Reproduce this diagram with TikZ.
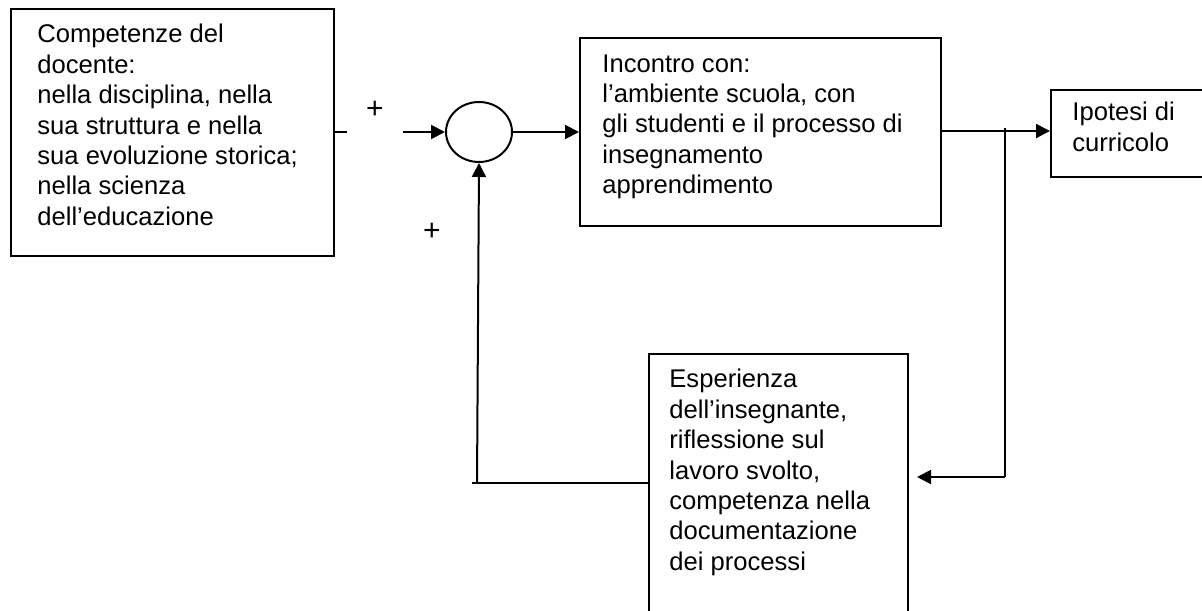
\documentclass[tikz,border=0pt]{standalone}
\usepackage{fontspec}
\setmainfont{Liberation Sans}
\usetikzlibrary{shapes.geometric,arrows.meta}
\begin{document}
\begin{tikzpicture}[x=0.5pt,y=-0.5pt,
  box/.style={draw,line width=1pt,rectangle,inner sep=0pt},
  txt/.style={anchor=north west,inner sep=0pt,align=left,font=\fontsize{12.8pt}{15.2pt}\selectfont},
  conn/.style={line width=1pt},
  arr/.style={line width=1pt,-{Triangle[length=7pt,width=7pt]}},
  plus/.style={inner sep=0pt,font=\fontsize{15pt}{15pt}\selectfont}]
\useasboundingbox (0,0) rectangle (1202,610);
\clip (0,0) rectangle (1202,610);
% boxes
\node[box,minimum width=161.5pt,minimum height=123.5pt,anchor=north west] (comp) at (10,8) {};
\node[box,minimum width=180.5pt,minimum height=94pt,anchor=north west] (inc) at (579,37) {};
\node[box,minimum width=76pt,minimum height=43.5pt,anchor=north west] (ipo) at (1050,89) {};
\node[box,minimum width=129.5pt,minimum height=140pt,anchor=north west] (esp) at (648,353) {};
\node[draw,line width=1pt,ellipse,inner sep=0pt,minimum width=33pt,minimum height=30pt] (sum) at (479,132) {};
% texts
\node[txt] (tcomp) at (37,24) {Competenze del\\docente:\\nella disciplina, nella\\sua struttura e nella\\sua evoluzione storica;\\nella scienza\\dell’educazione};
\node[txt] (tinc) at (602,54) {Incontro con:\\l’ambiente scuola, con\\gli studenti e il processo di\\insegnamento\\apprendimento};
\node[txt] (tipo) at (1072,102) {Ipotesi di\\curricolo};
\node[txt] (tesp) at (669,369) {Esperienza\\dell’insegnante,\\riflessione sul\\lavoro svolto,\\competenza nella\\documentazione\\dei processi};
\node[plus] (p1) at (375,110) {+};
\node[plus] (p2) at (432,232) {+};
% connectors
\coordinate (stub) at (347,132);
\coordinate (instart) at (403,132);
\draw[conn] (comp.east |- stub) -- (stub);
\draw[arr] (instart) -- (sum.west);
\draw[arr] (sum.east) -- (inc.west |- sum.east);
\coordinate (tap) at (1005,131);
\coordinate (tapbot) at (1005,477);
\draw[arr] (inc.east |- tap) -- (ipo.west |- tap);
\draw[conn] (1005,128) -- (tapbot);
\draw[arr,shorten >=4pt] (tapbot) -- (esp.east |- tapbot);
\coordinate (fbl) at (472,483);
\coordinate (fbc) at (477,483);
\draw[conn] (esp.west |- fbl) -- (fbl);
\draw[arr] (fbc) -- (sum.south);
\end{tikzpicture}
\end{document}
